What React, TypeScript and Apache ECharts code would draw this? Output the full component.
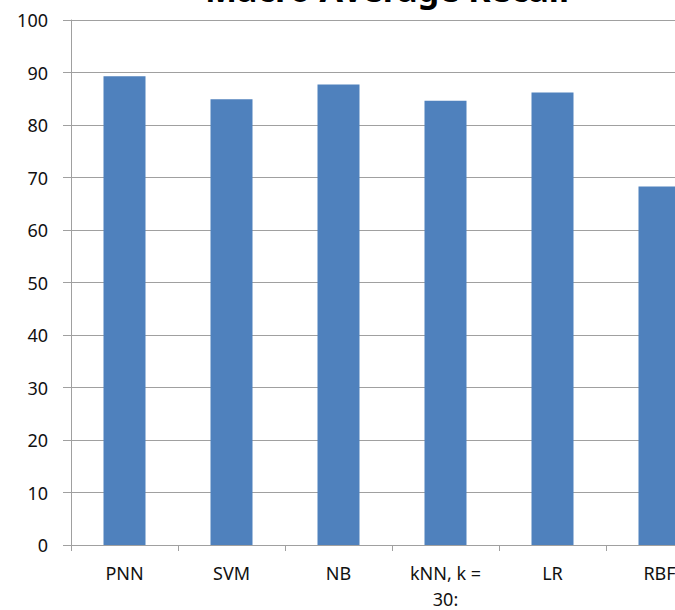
import React, { useEffect, useRef } from "react";
import * as echarts from "echarts";

const categories = ["PNN", "SVM", "NB", "kNN, k =\n30:", "LR", "RBF"];
const recall = [89.3, 84.9, 87.7, 84.6, 86.2, 68.3];
const yTicks = { min: 0, max: 100, interval: 10 };
const titleText = "Macro Average Recall";

export default function App() {
  const ref = useRef<HTMLDivElement>(null);
  useEffect(() => {
    if (!ref.current) return;
    const chart = echarts.init(ref.current, undefined, { renderer: "svg" });
    const font = "'Noto Sans', 'Open Sans', sans-serif";
    chart.setOption({
      animation: false,
      backgroundColor: "#ffffff",
      graphic: [
        {
          type: "text",
          x: 387,
          y: -11,
          style: {
            text: titleText,
            fill: "#000",
            font: `bold 34px ${font}`,
            align: "center",
            verticalAlign: "middle",
          },
        },
      ],
      grid: {
        left: 71,
        top: 20,
        bottom: 65,
        right: 7,
        outerBoundsMode: "none",
        containLabel: false,
      },
      xAxis: {
        type: "category",
        data: categories,
        axisLine: { show: true, lineStyle: { color: "#a0a0a0", width: 1 } },
        axisTick: { show: true, length: 6, lineStyle: { color: "#a0a0a0" } },
        axisLabel: {
          color: "#111",
          fontFamily: font,
          fontSize: 18,
          margin: 15,
          lineHeight: 26,
          interval: 0,
        },
      },
      yAxis: {
        type: "value",
        min: yTicks.min,
        max: yTicks.max,
        interval: yTicks.interval,
        axisLine: { show: true, lineStyle: { color: "#a0a0a0", width: 1 } },
        axisTick: { show: true, length: 8, lineStyle: { color: "#a0a0a0" } },
        splitLine: { show: true, lineStyle: { color: "#a0a0a0", width: 1 } },
        axisLabel: {
          color: "#111",
          fontFamily: font,
          fontSize: 18,
          margin: 23,
        },
      },
      series: [
        {
          type: "bar",
          data: recall,
          barWidth: 42,
          itemStyle: { color: "#4F81BD" },
        },
      ],
    });
    return () => chart.dispose();
  }, []);
  return (
    <div
      style={{
        position: "absolute",
        left: 0,
        top: 0,
        width: 675,
        height: 610,
        overflow: "hidden",
        background: "#fff",
      }}
    >
      <div ref={ref} style={{ width: 720, height: 610 }} />
    </div>
  );
}
